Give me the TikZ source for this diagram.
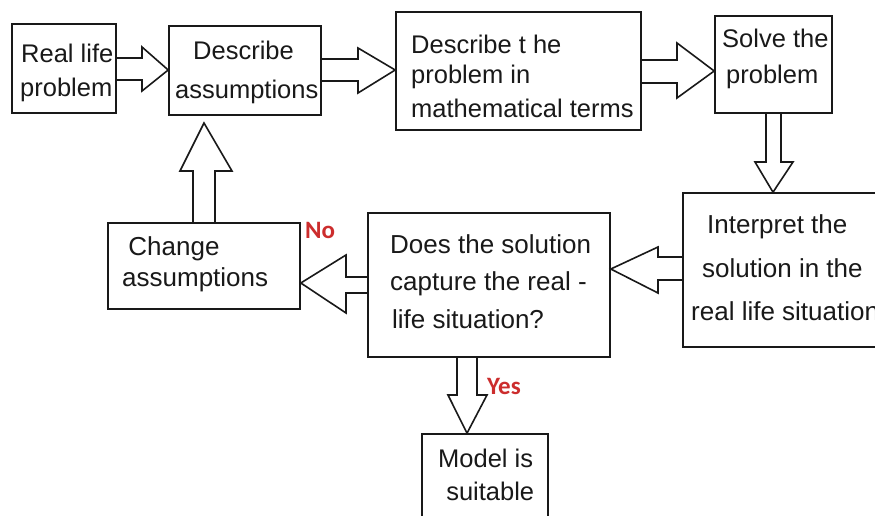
\documentclass[tikz,border=0pt]{standalone}
\usepackage{fontspec}
\setmainfont{Liberation Sans}
\newfontfamily\labfont{Carlito}
\usetikzlibrary{calc}
\definecolor{lab}{RGB}{204,45,45}
\definecolor{ink}{RGB}{25,25,25}
\tikzset{
 box/.style={draw=ink, line width=1.6pt, rectangle, inner sep=0},
 txt/.style={anchor=base west, inner sep=0, font=\fontsize{25.5}{30}\selectfont, text=ink},
 txtb/.style={anchor=base west, inner sep=0, font=\fontsize{26}{30}\selectfont, text=ink},
 lbl/.style={anchor=base west, inner sep=0, font=\labfont\bfseries\fontsize{25}{30}\selectfont, text=lab},
 blk/.style={draw=ink, line width=1.6pt, line join=miter},
}
\begin{document}
\begin{tikzpicture}[x=1pt,y=-1pt]
\useasboundingbox (0,0) rectangle (875,516);
\clip (0,0) rectangle (875,516);
\fill[white] (0,0) rectangle (875,516);
% boxes
\node[box, minimum width=104pt, minimum height=89pt] (b1) at (64,68.5) {};
\node[box, minimum width=152pt, minimum height=89pt] (b2) at (245,70.5) {};
\node[box, minimum width=245pt, minimum height=118pt] (b3) at (518.5,71) {};
\node[box, minimum width=117pt, minimum height=97pt] (b4) at (773.5,64.5) {};
\node[box, minimum width=207pt, minimum height=154pt] (b5) at (786.5,270) {};
\node[box, minimum width=242pt, minimum height=144pt] (b6) at (489,285) {};
\node[box, minimum width=192pt, minimum height=86pt] (b7) at (204,266) {};
\node[box, minimum width=126pt, minimum height=96pt] (b8) at (485,482) {};
% texts
\node[txt] (t1a) at (21,63) {Real life};
\node[txt] (t1b) at (20,97) {problem};
\node[txt] (t2a) at (193,60) {Describe};
\node[txt] (t2b) at (175,99) {assumptions};
\node[txt] (t3a) at (411,54) {Describe t he};
\node[txt] (t3b) at (411,84) {problem in};
\node[txt] (t3c) at (411,118) {mathematical terms};
\node[txt] (t4a) at (722,48) {Solve the};
\node[txt] (t4b) at (726,84) {problem};
\node[txtb] (t5a) at (707,233) {Interpret the};
\node[txtb] (t5b) at (702,277) {solution in the};
\node[txtb] (t5c) at (691,320) {real life situation};
\node[txtb] (t6a) at (390,253) {Does the solution};
\node[txtb] (t6b) at (390,290) {capture the real -};
\node[txtb] (t6c) at (392,328) {life situation?};
\node[txtb] (t7a) at (121,255) {\ Change};
\node[txtb] (t7b) at (122,286) {assumptions};
\node[txt] (t8a) at (438,467) {Model is};
\node[txt] (t8b) at (439,500) {\ suitable};
\node[lbl] (no) at (305,238) {No};
\node[lbl] (yes) at (487,394) {Yes};
% block arrows
\draw[blk] (b1.east |- 0,58) -- (142,58) -- (142,47) -- (b2.west |- 0,70) -- (142,91) -- (142,80) -- (b1.east |- 0,80);
\draw[blk] (b2.east |- 0,59) -- (358,59) -- (358,48) -- (b3.west |- 0,70) -- (358,93) -- (358,81) -- (b2.east |- 0,81);
\draw[blk] (b3.east |- 0,60) -- (677,60) -- (677,43) -- (b4.west |- 0,71) -- (677,98) -- (677,83) -- (b3.east |- 0,83);
\draw[blk] (766,0 |- b4.south) -- (766,162) -- (755,162) -- (773,0 |- b5.north) -- (793,162) -- (781,162) -- (781,0 |- b4.south);
\draw[blk] (b5.west |- 0,257) -- (658,257) -- (658,247) -- (b6.east |- 0,269) -- (658,293) -- (658,280) -- (b5.west |- 0,280);
\draw[blk] (b6.west |- 0,277) -- (346,277) -- (346,255) -- (b7.east |- 0,283) -- (346,313) -- (346,293) -- (b6.west |- 0,293);
\coordinate (t7) at (204,123);
\draw[blk] (193,0 |- b7.north) -- (193,171) -- (180,171) -- (t7) -- (232,171) -- (215,171) -- (215,0 |- b7.north);
\draw[blk] (457,0 |- b6.south) -- (457,395) -- (448,395) -- (467,0 |- b8.north) -- (487,395) -- (477,395) -- (477,0 |- b6.south);
\end{tikzpicture}
\end{document}
